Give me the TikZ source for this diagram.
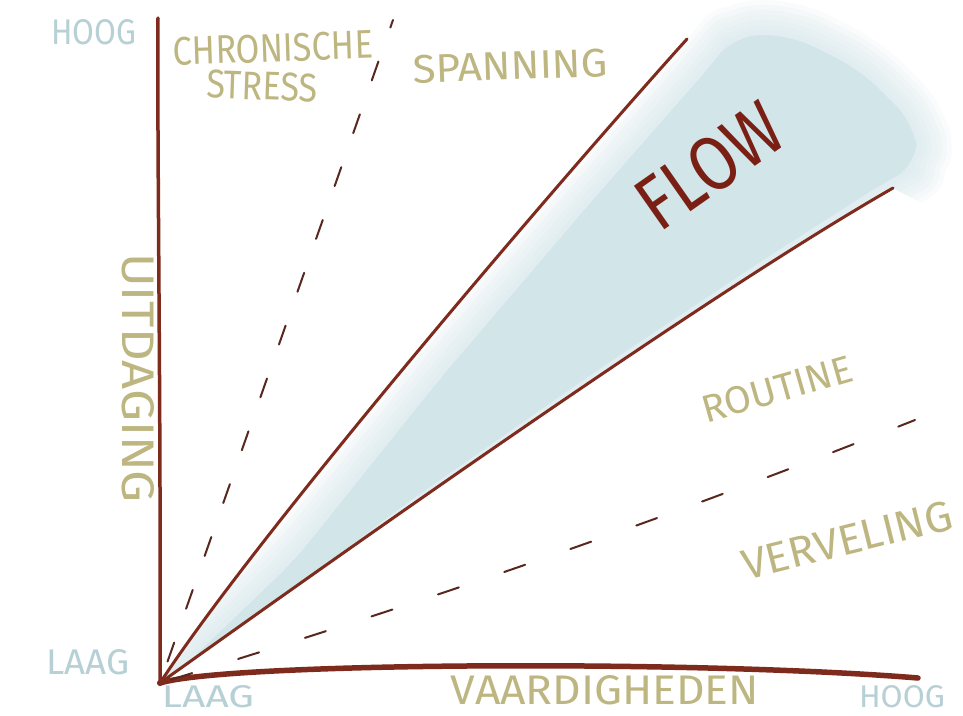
\documentclass[tikz,border=0pt]{standalone}
\usepackage{fontspec}
\setmainfont{Fira Sans}

\definecolor{axisbrown}{RGB}{126,42,28}
\definecolor{flowred}{RGB}{122,31,20}
\definecolor{dashbrown}{RGB}{88,40,30}
\definecolor{zoneolive}{RGB}{189,182,128}
\definecolor{levelblue}{RGB}{183,208,213}
\definecolor{flowblue}{RGB}{210,229,233}

% hand lettering: text stretched to a given width and cap height
\newcommand\hand[3]{\resizebox{#1pt}{#2pt}{#3}}

\tikzset{
  zone/.style={text=zoneolive, inner sep=0pt},
  level/.style={text=levelblue, inner sep=0pt},
  axis/.style={draw=axisbrown, line cap=round, line join=round},
  border/.style={draw=axisbrown, line width=3pt, line cap=round},
  guide/.style={draw=dashbrown, line width=2pt, line cap=round},
  cloud/.style={rounded corners=25pt, line join=round}
}

\begin{document}
\begin{tikzpicture}[x=1pt, y=-1pt]
\path[use as bounding box, fill=white] (0,0) rectangle (963,715);

\coordinate (o) at (160,683);
\coordinate (ytop) at (158,18);
\coordinate (xend) at (918,678);
\coordinate (flowtop) at (687,39);
\coordinate (flowlow) at (893,188);
\coordinate (stresstip) at (393,20);
\coordinate (boretip) at (915,420);

% the flow channel, soft blue with a blurred rim
\begin{scope}
  \clip (o) .. controls (260,530) and (560,180) .. (flowtop) -- (675,0) -- (963,0)
    -- (963,225) -- (flowlow) .. controls (750,270) and (500,440) .. (o) -- cycle;
  \foreach \w in {70,60,...,10}
    \draw[cloud, flowblue, line width=\w pt, opacity=0.12]
      (178,672) -- (294,561) -- (440,379) -- (592,201) -- (714,62) -- (735,35)
      -- (790,35) -- (860,70) -- (915,125) -- (918,165) -- (888,180)
      -- (760,262) -- (596,371) -- (394,512) -- (195,668) -- cycle;
  \fill[cloud, flowblue]
      (178,672) -- (294,561) -- (440,379) -- (592,201) -- (714,62) -- (735,35)
      -- (790,35) -- (860,70) -- (915,125) -- (918,165) -- (888,180)
      -- (760,262) -- (596,371) -- (394,512) -- (195,668) -- cycle;
\end{scope}

% axes
\draw[axis, line width=3.5pt] (o) .. controls (161,400) and (157,150) .. (ytop);
\draw[axis, line width=5.5pt] (o) .. controls (230,662) and (700,660) .. (xend);
\fill[axisbrown] (o) circle (3);

% flow borders
\draw[border] (o) .. controls (260,530) and (560,180) .. (flowtop);
\draw[border] (o) .. controls (500,440) and (750,270) .. (flowlow);

% dashed zone borders
\draw[guide, dash pattern=on 20pt off 36pt, dash phase=12pt] (stresstip) -- (o);
\draw[guide, dash pattern=on 22pt off 48pt, dash phase=4pt]
  (boretip) .. controls (600,545) and (350,625) .. (o);

% zones
\node[zone, rotate=2] (chronic) at (273,48) {\hand{200}{28}{CHRONISCHE}};
\node[zone, rotate=-2] (stress) at (262,86) {\hand{111}{28}{STRESS}};
\node[zone, rotate=2] (tension) at (510,66) {\hand{195}{28}{SPANNING}};
\node[text=flowred, inner sep=0pt, rotate=35] (flow) at (710,166) {\hand{160}{54}{FLOW}};
\node[zone, rotate=16] (routine) at (777,389) {\hand{155}{27}{ROUTINE}};
\node[zone, rotate=14] (boredom) at (847,540) {\hand{215}{30}{VERVELING}};

% axis titles and levels
\node[zone, rotate=-90] (challenge) at (138,378) {\hand{250}{32}{UITDAGING}};
\node[zone] (skill) at (605,690) {\hand{308}{29}{VAARDIGHEDEN}};
\node[level] (yhigh) at (94,32) {\hand{85}{25}{HOOG}};
\node[level] (ylow) at (88,662) {\hand{83}{25}{LAAG}};
\node[level] (xlow) at (208,697) {\hand{92}{22}{LAAG}};
\node[level] (xhigh) at (902,697) {\hand{86}{22}{HOOG}};
\end{tikzpicture}
\end{document}
